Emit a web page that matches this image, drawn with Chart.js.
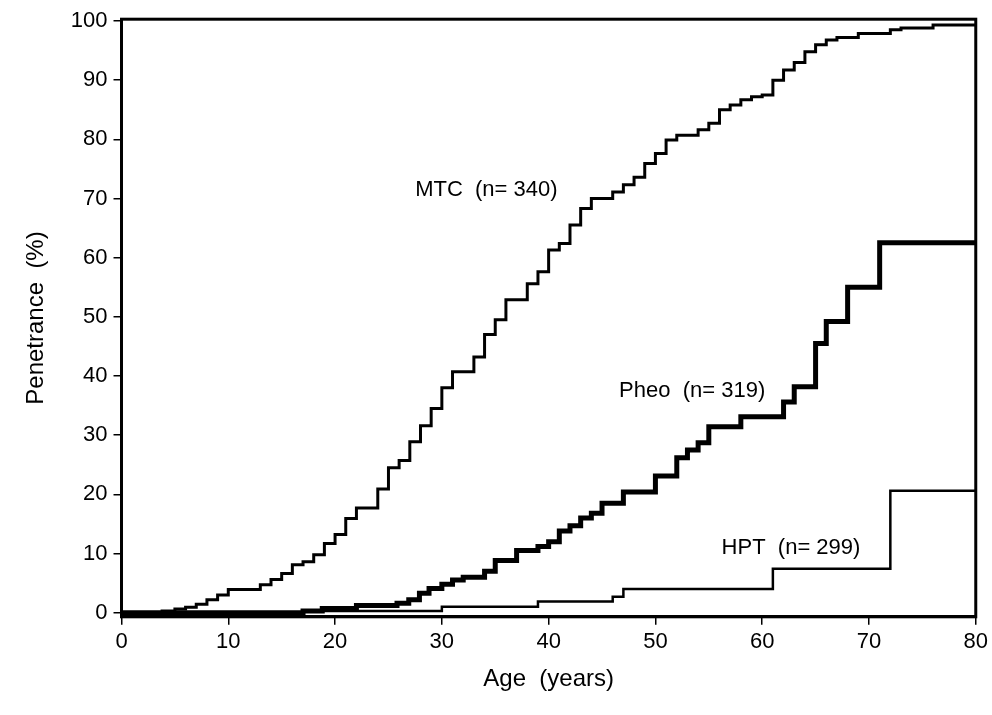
<!DOCTYPE html>
<html>
<head>
<meta charset="utf-8">
<script src="https://cdn.jsdelivr.net/npm/chart.js@4/dist/chart.umd.min.js"></script>
<style>
  html, body { margin: 0; padding: 0; background: #fff; }
  #wrap { width: 992px; height: 715px; }
</style>
</head>
<body>
<div id="wrap"><canvas id="c"></canvas></div>
<script>
'use strict';

// age at which each step starts, and penetrance (%) from that age on
const mtcAge = [0, 3.8, 5, 6, 7, 8, 9, 10, 13, 14, 15, 16, 17, 18, 19, 20, 21, 22, 24, 25, 26, 27, 28, 29, 30, 31, 33, 34, 35, 36, 38, 39, 40, 41, 42, 43, 44, 46, 47, 48, 49, 50, 51, 52, 54, 55, 56, 57, 58, 59, 60, 61, 62, 63, 64, 65, 66, 67, 69, 72, 73, 76, 80];
const mtcPen = [0, 0.3, 0.6, 0.9, 1.4, 2.2, 3, 3.9, 4.7, 5.6, 6.6, 8.1, 8.6, 9.8, 11.7, 13.2, 15.9, 17.7, 20.9, 24.5, 25.7, 28.9, 31.6, 34.5, 38, 40.7, 43.2, 47, 49.5, 52.9, 55.6, 57.6, 61.3, 62.4, 65.5, 68.3, 70, 71.1, 72.3, 73.6, 75.9, 77.6, 79.9, 80.7, 81.6, 82.7, 85, 85.8, 86.7, 87.2, 87.5, 90, 91.7, 93, 94.8, 96, 96.8, 97.2, 97.9, 98.5, 98.8, 99.3, 99.3];

const pheoAge = [0, 17, 18.8, 22, 25.8, 26.9, 27.9, 28.8, 30, 31, 32, 34, 35, 37, 39, 40, 41, 42, 43, 44, 45, 47, 50, 52, 53, 54, 55, 58, 62, 63, 65, 66, 68, 71, 80];
const pheoPen = [0, 0.3, 0.7, 1.2, 1.6, 2.2, 3.3, 4.1, 4.8, 5.5, 6, 7, 8.8, 10.5, 11.2, 12, 13.8, 14.7, 16, 16.8, 18.5, 20.4, 23.1, 26.2, 27.5, 28.7, 31.4, 33.1, 35.6, 38.2, 45.5, 49.2, 55, 62.5, 62.5];

const hptAge = [0, 17, 30, 39, 46, 47, 61, 72, 80];
const hptPen = [-0.3, 0.3, 1, 1.9, 2.7, 4, 7.4, 20.6, 20.6];

const xTicks = [0, 10, 20, 30, 40, 50, 60, 70, 80];
const yTicks = [0, 10, 20, 30, 40, 50, 60, 70, 80, 90, 100];

const curveLabels = [
    { text: 'MTC  (n= 340)', x: 27.5, y: 71.5 },
    { text: 'Pheo  (n= 319)', x: 46.6, y: 37.5 },
    { text: 'HPT  (n= 299)', x: 56.2, y: 11 }
];

function toPoints(ages, pens) {
    return ages.map((a, i) => ({ x: a, y: pens[i] }));
}

const labelPlugin = {
    id: 'curveLabels',
    afterDatasetsDraw(chart) {
        const ctx = chart.ctx;
        const xs = chart.scales.x, ys = chart.scales.y;
        ctx.save();
        ctx.fillStyle = '#000';
        ctx.font = '22px "Liberation Sans", Arial, sans-serif';
        ctx.textBaseline = 'middle';
        curveLabels.forEach(l => ctx.fillText(l.text, xs.getPixelForValue(l.x), ys.getPixelForValue(l.y)));
        // frame
        const a = chart.chartArea;
        ctx.strokeStyle = '#000';
        ctx.lineWidth = 3;
        ctx.strokeRect(a.left, a.top, a.right - a.left, a.bottom - a.top);
        ctx.restore();
    }
};

const font = { family: '"Liberation Sans", Arial, sans-serif', size: 22 };

new Chart(document.getElementById('c'), {
    type: 'line',
    data: {
        datasets: [
            { data: toPoints(mtcAge, mtcPen), borderColor: '#000', borderWidth: 3, stepped: 'before', pointRadius: 0, fill: false },
            { data: toPoints(pheoAge, pheoPen), borderColor: '#000', borderWidth: 5, stepped: 'before', pointRadius: 0, fill: false },
            { data: toPoints(hptAge, hptPen), borderColor: '#000', borderWidth: 2.5, stepped: 'before', pointRadius: 0, fill: false }
        ]
    },
    options: {
        responsive: true,
        maintainAspectRatio: false,
        animation: false,
        layout: { padding: { top: 16, right: 12, left: 18, bottom: 17 } },
        plugins: { legend: { display: false }, tooltip: { enabled: false } },
        scales: {
            x: {
                type: 'linear', min: 0, max: 80,
                afterBuildTicks: s => { s.ticks = xTicks.map(v => ({ value: v })); },
                grid: { drawOnChartArea: false, drawTicks: true, tickLength: 8, color: '#000', lineWidth: 1.5 },
                border: { color: '#000', width: 3 },
                ticks: { color: '#000', font: font, padding: 4, maxRotation: 0 },
                title: { display: true, text: 'Age  (years)', color: '#000', font: { family: font.family, size: 24 }, padding: { top: 6 } }
            },
            y: {
                type: 'linear', min: -0.7, max: 100.3,
                afterBuildTicks: s => { s.ticks = yTicks.map(v => ({ value: v })); },
                grid: { drawOnChartArea: false, drawTicks: true, tickLength: 8, color: '#000', lineWidth: 1.5 },
                border: { color: '#000', width: 3 },
                ticks: { color: '#000', font: font, padding: 6 },
                title: { display: true, text: 'Penetrance  (%)', color: '#000', font: { family: font.family, size: 24 }, padding: { bottom: 14 } }
            }
        }
    },
    plugins: [labelPlugin]
});
</script>
</body>
</html>
